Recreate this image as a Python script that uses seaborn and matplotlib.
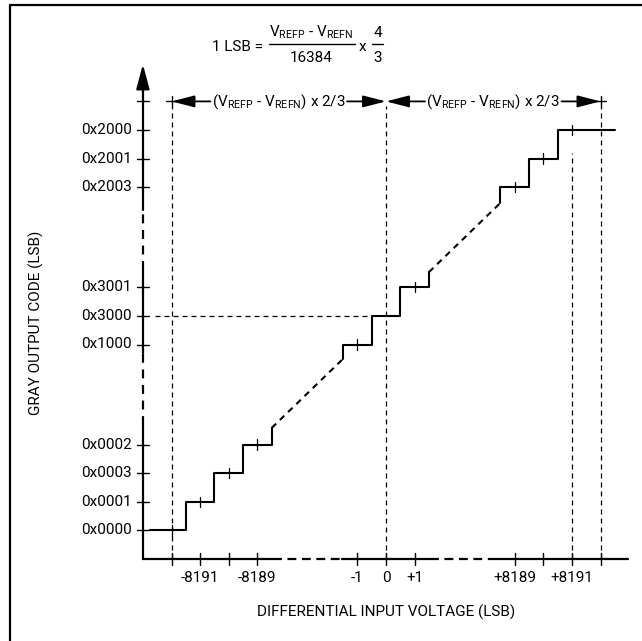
import seaborn as sns
import matplotlib.pyplot as plt
from matplotlib.lines import Line2D

# Gray output codes shown on the three visible parts of the transfer curve
low_codes = ["0x0000", "0x0001", "0x0003", "0x0002"]
low_index = [0, 1, 2, 3]              # binary code number
mid_codes = ["0x1000", "0x3000", "0x3001"]
mid_index = [8191, 8192, 8193]
top_codes = ["0x2003", "0x2001", "0x2000"]
top_index = [16381, 16382, 16383]

# input (LSB) ticks on the x axis
x_tick_values = [-8192, -8191, -8190, -8189, -1, 0, 1, 8189, 8190, 8191, 8192]
x_tick_labels = ["", "-8191", "", "-8189", "-1", "0", "+1", "+8189", "", "+8191", ""]

curve_start = -8192.75   # input where the drawn curve starts / ends
curve_end = 8192.5
partial_rise = [0.58, 0.5, 0.53, 0.55]   # part of a step drawn next to each break

formula_num = r"V$_{\mathregular{REFP}}$ - V$_{\mathregular{REFN}}$"
formula_den = "16384"
span_label = r"(V$_{\mathregular{REFP}}$ - V$_{\mathregular{REFN}}$) x 2/3"


def xpos(v):
    # broken x axis: the two far ends are pulled in next to the middle
    if v < -4096:
        return v + 8184.5
    if v > 4096:
        return v - 8184.5
    return v


def ypos(k):
    # broken y axis, one unit per code
    if k < 4096:
        return k + 1
    if k < 12288:
        return k - 8183.5
    return k - 16368


def staircase(index, x0, x1):
    xs, ys = [], []
    for i, k in enumerate(index):
        left = x0 if i == 0 else k - 8192 - 0.5
        right = x1 if i == len(index) - 1 else k - 8192 + 0.5
        xs += [xpos(left), xpos(right)]
        ys += [ypos(k), ypos(k)]
    return xs, ys


sns.set_theme(style="white")
plt.rcParams["font.family"] = ["Roboto", "DejaVu Sans"]
plt.rcParams["mathtext.default"] = "regular"
plt.rcParams["text.color"] = "black"

fig = plt.figure(figsize=(6.42, 6.41), dpi=100)
ax = fig.add_axes([0, 0, 1, 1])
ax.set_xlim(-386 / 28.6, 256 / 28.6)
ax.set_ylim(-82 / 28.6, 559 / 28.6)
ax.axis("off")

fs = 11
lw_curve = 1.5
dash_thin = dict(color="black", lw=0.9, linestyle=(0, (4, 3.2)))

# ---- transfer curve ----
xs, ys = staircase(low_index, curve_start, low_index[-1] - 8192 + 0.5)
xs.append(xs[-1]); ys.append(ys[-1] + partial_rise[0])
low_end = (xs[-1], ys[-1])
sns.lineplot(x=xs, y=ys, sort=False, estimator=None, color="black", lw=lw_curve, ax=ax)

xs, ys = staircase(mid_index, mid_index[0] - 8192 - 0.5, mid_index[-1] - 8192 + 0.5)
xs = [xs[0]] + xs; ys = [ys[0] - partial_rise[1]] + ys
xs.append(xs[-1]); ys.append(ys[-1] + partial_rise[2])
mid_start, mid_end = (xs[0], ys[0]), (xs[-1], ys[-1])
sns.lineplot(x=xs, y=ys, sort=False, estimator=None, color="black", lw=lw_curve, ax=ax)

xs, ys = staircase(top_index, top_index[0] - 8192 - 0.5, curve_end)
xs = [xs[0]] + xs; ys = [ys[0] - partial_rise[3]] + ys
top_start = (xs[0], ys[0])
sns.lineplot(x=xs, y=ys, sort=False, estimator=None, color="black", lw=lw_curve, ax=ax)

for a, b in [(low_end, mid_start), (mid_end, top_start)]:
    ax.plot([a[0], b[0]], [a[1], b[1]], color="black", lw=lw_curve, linestyle=(0, (3, 2.5)))

# small marks at the code centres
for k in low_index + [mid_index[0], mid_index[2]] + top_index:
    cx = xpos(k - 8192)
    ax.plot([cx, cx], [ypos(k) - 0.18, ypos(k) + 0.18], color="black", lw=0.9)

# ---- axes ----
ax_x = -8.5
ax_lw = 1.6
y_breaks = [0, ypos(3) + 0.7, ypos(8191) - 0.3, ypos(8193) + 0.6, ypos(16381) - 0.8, 16.6]
for i in range(len(y_breaks) - 1):
    ls = "-" if i % 2 == 0 else (0, (4, 3))
    ax.plot([ax_x, ax_x], [y_breaks[i], y_breaks[i + 1]], color="black", lw=ax_lw, linestyle=ls)
ax.annotate("", xy=(ax_x, 17.3), xytext=(ax_x, 16.4),
            arrowprops=dict(arrowstyle="-|>,head_length=0.75,head_width=0.2",
                            mutation_scale=20, color="black", lw=ax_lw, shrinkA=0, shrinkB=0))

x_breaks = [ax_x, xpos(-8188.5) + 0.05, xpos(-1.5) - 0.04, xpos(1.5) + 0.04, xpos(8188.5) - 0.2, 8.46]
for i in range(len(x_breaks) - 1):
    ls = "-" if i % 2 == 0 else (0, (4, 2.5))
    ax.plot([x_breaks[i], x_breaks[i + 1]], [0, 0], color="black", lw=ax_lw, linestyle=ls)

# y ticks and labels
for k, lab in zip(low_index + mid_index + top_index, low_codes + mid_codes + top_codes):
    ax.plot([ax_x - 0.2, ax_x + 0.2], [ypos(k), ypos(k)], color="black", lw=1.0)
    ax.text(ax_x - 0.38, ypos(k), lab, ha="right", va="center", fontsize=fs)
ax.plot([ax_x - 0.2, ax_x + 0.2], [16, 16], color="black", lw=1.0)

# x ticks and labels
for v, lab in zip(x_tick_values, x_tick_labels):
    ax.plot([xpos(v), xpos(v)], [-0.2, 0.22], color="black", lw=1.0)
    if lab:
        ax.text(xpos(v), -0.68, lab, ha="center", va="center", fontsize=fs)

ax.text(0, -1.85, "DIFFERENTIAL INPUT VOLTAGE (LSB)", ha="center", va="center", fontsize=fs)
ax.text(-12.24, 8.25, "GRAY OUTPUT CODE (LSB)", ha="center", va="center",
        rotation=90, fontsize=fs)

# ---- guide lines ----
for v, top in [(-8192, 15.85), (0, 15.85), (8191, 14.2), (8192, 15.85)]:
    ax.plot([xpos(v), xpos(v)], [0, top], **dash_thin)
ax.plot([-8.08, xpos(-0.5)], [ypos(8192), ypos(8192)], **dash_thin)

# ---- dimension line ----
dim_y = 16
left_end, mid_pt, right_end = xpos(-8192), 0, xpos(8192)
ax.plot([left_end - 0.18, left_end + 0.3], [dim_y, dim_y], color="black", lw=1.0)
ax.plot([left_end, left_end], [dim_y - 0.18, dim_y + 0.18], color="black", lw=1.0)
ax.plot([right_end - 0.3, right_end + 0.18], [dim_y, dim_y], color="black", lw=1.0)
ax.plot([right_end, right_end], [dim_y - 0.18, dim_y + 0.18], color="black", lw=1.0)

span_texts = []
for a, b in [(left_end, mid_pt), (mid_pt, right_end)]:
    t = ax.text((a + b) / 2, dim_y, span_label, ha="center", va="center", fontsize=fs)
    span_texts.append((t, a, b))

# ---- formula ----
ax.text(-5.2, 17.9, "1 LSB =", ha="center", va="center", fontsize=fs)
ax.text(-2.6, 18.4, formula_num, ha="center", va="center", fontsize=fs)
ax.plot([-4.1, -1.1], [18.0, 18.0], color="black", lw=1.0)
ax.text(-2.6, 17.5, formula_den, ha="center", va="center", fontsize=fs)
ax.text(-0.82, 17.9, "x", ha="center", va="center", fontsize=fs)
ax.text(-0.3, 18.4, "4", ha="center", va="center", fontsize=fs)
ax.plot([-0.5, -0.1], [18.0, 18.0], color="black", lw=1.0)
ax.text(-0.3, 17.5, "3", ha="center", va="center", fontsize=fs)

# arrows start at the edges of the span labels
fig.canvas.draw()
inv = ax.transData.inverted()
arrow = dict(arrowstyle="-|>,head_length=0.7,head_width=0.18", mutation_scale=20,
             color="black", lw=1.3, shrinkA=0, shrinkB=0)
for t, a, b in span_texts:
    bb = t.get_window_extent()
    x0 = inv.transform((bb.x0, bb.y0))[0] - 0.05
    x1 = inv.transform((bb.x1, bb.y0))[0] + 0.05
    ax.annotate("", xy=(a, dim_y), xytext=(x0, dim_y), arrowprops=arrow)
    ax.annotate("", xy=(b, dim_y), xytext=(x1, dim_y), arrowprops=arrow)

# frame (top and left only)
fig.add_artist(Line2D([10 / 642, 10 / 642], [0, 1 - 5 / 641], transform=fig.transFigure,
                      color="black", lw=1.6))
fig.add_artist(Line2D([10 / 642, 1], [1 - 5 / 641, 1 - 5 / 641], transform=fig.transFigure,
                      color="black", lw=1.6))

fig.savefig("out.png", dpi=100)
